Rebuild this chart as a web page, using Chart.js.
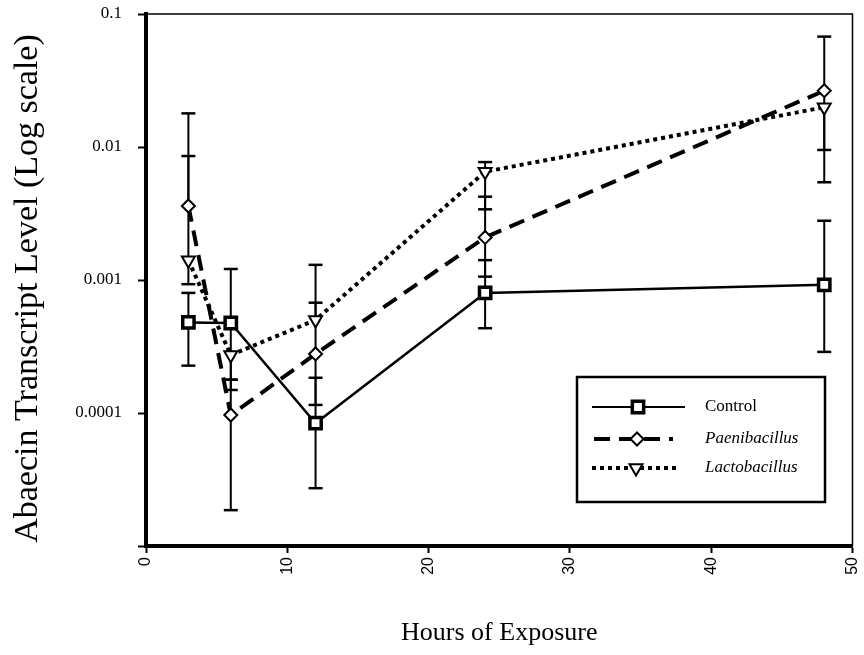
<!DOCTYPE html>
<html>
<head>
<meta charset="utf-8">
<script src="https://cdn.jsdelivr.net/npm/chart.js@4/dist/chart.umd.min.js"></script>
<style>
  html, body { margin: 0; padding: 0; background: #fff; }
  #wrap { width: 864px; height: 655px; }
</style>
</head>
<body>
<div id="wrap"><canvas id="c" width="864" height="655"></canvas></div>
<script>
// ---- Data ----
const hours = [3, 6, 12, 24, 48];

const controlMean = [0.00048, 0.000475, 0.0000838, 0.00080, 0.00092];
const controlLow  = [0.000227, 0.000178, 0.0000272, 0.000434, 0.000288];
const controlHigh = [0.00080, 0.00121, 0.000184, 0.00141, 0.00279];

const paeniMean = [0.0036, 0.0000966, 0.000278, 0.00209, 0.0265];
const paeniLow  = [null, 0.0000186, 0.000115, 0.00106, 0.0095];
const paeniHigh = [0.0179, 0.000178, 0.000675, 0.00423, 0.0676];

const lactoMean = [0.00141, 0.000273, 0.00050, 0.00652, 0.0199];
const lactoLow  = [0.00093, 0.000149, null, 0.0034, 0.00543];
const lactoHigh = [0.00855, null, 0.0013, 0.0077, null];

const seriesNames = ['Control', 'Paenibacillus', 'Lactobacillus'];
const yTickValues = [0.00001, 0.0001, 0.001, 0.01, 0.1];
const yTickLabels = ['', '0.0001', '0.001', '0.01', '0.1'];
const xTitle = 'Hours of Exposure';
const yTitle = 'Abaecin Transcript Level (Log scale)';

// ---- Build datasets ----
const toPts = arr => hours.map((h, i) => ({ x: h, y: arr[i] }));
const errLow = [controlLow, paeniLow, lactoLow];
const errHigh = [controlHigh, paeniHigh, lactoHigh];

const datasets = [
  {
    label: seriesNames[0], data: toPts(controlMean),
    borderColor: '#000', borderWidth: 2.5, backgroundColor: '#fff',
    pointStyle: 'rect', pointRadius: 8, pointBorderWidth: 3.5,
    pointBackgroundColor: '#fff', pointBorderColor: '#000', order: 0
  },
  {
    label: seriesNames[1], data: toPts(paeniMean),
    borderColor: '#000', borderWidth: 4, borderDash: [16, 9],
    pointStyle: 'rectRot', pointRadius: 6.5, pointBorderWidth: 2,
    pointBackgroundColor: '#fff', pointBorderColor: '#000', order: 1
  },
  {
    label: seriesNames[2], data: toPts(lactoMean),
    borderColor: '#000', borderWidth: 4, borderDash: [4, 4],
    pointStyle: 'triangle', pointRotation: 180, pointRadius: 7.5, pointBorderWidth: 2,
    pointBackgroundColor: '#fff', pointBorderColor: '#000', order: 2
  }
];

// ---- Plugins ----
const errorBarPlugin = {
  id: 'errorBars',
  beforeDatasetsDraw(chart) {
    const { ctx, scales: { x, y } } = chart;
    ctx.save();
    ctx.strokeStyle = '#000';
    const cap = 7;
    datasets.forEach((ds, di) => {
      hours.forEach((h, i) => {
        const px = x.getPixelForValue(h);
        const pm = y.getPixelForValue(ds.data[i].y);
        const lo = errLow[di][i], hi = errHigh[di][i];
        ctx.lineWidth = 2;
        if (hi != null) {
          const ph = y.getPixelForValue(hi);
          ctx.beginPath(); ctx.moveTo(px, pm); ctx.lineTo(px, ph); ctx.stroke();
          ctx.lineWidth = 2.5;
          ctx.beginPath(); ctx.moveTo(px - cap, ph); ctx.lineTo(px + cap, ph); ctx.stroke();
        }
        ctx.lineWidth = 2;
        if (lo != null) {
          const pl = y.getPixelForValue(lo);
          ctx.beginPath(); ctx.moveTo(px, pm); ctx.lineTo(px, pl); ctx.stroke();
          ctx.lineWidth = 2.5;
          ctx.beginPath(); ctx.moveTo(px - cap, pl); ctx.lineTo(px + cap, pl); ctx.stroke();
        }
      });
    });
    ctx.restore();
  }
};

const framePlugin = {
  id: 'frame',
  afterDraw(chart) {
    const { ctx, chartArea: a } = chart;
    ctx.save();
    ctx.strokeStyle = '#000';
    ctx.lineWidth = 1.5;
    ctx.beginPath();
    ctx.moveTo(a.left, a.top); ctx.lineTo(a.right, a.top); ctx.lineTo(a.right, a.bottom);
    ctx.stroke();
    ctx.restore();
  }
};

function drawMarker(ctx, ds, x, y) {
  Chart.helpers.drawPoint(ctx, {
    pointStyle: ds.pointStyle, rotation: ds.pointRotation || 0,
    radius: ds.pointRadius, borderWidth: ds.pointBorderWidth
  }, x, y);
}

const legendPlugin = {
  id: 'boxLegend',
  afterDraw(chart) {
    const { ctx } = chart;
    const L = 577, T = 377, R = 825, B = 502;
    ctx.save();
    ctx.fillStyle = '#fff';
    ctx.fillRect(L, T, R - L, B - T);
    ctx.strokeStyle = '#000';
    ctx.lineWidth = 2.5;
    ctx.strokeRect(L, T, R - L, B - T);
    const rows = [407, 439, 468];
    const lineX = [[592, 685], [594, 673], [592, 680]];
    const markX = [638, 637, 636];
    const lw = [1.8, 4, 4];
    datasets.forEach((ds, i) => {
      const y = rows[i];
      ctx.strokeStyle = '#000';
      ctx.lineWidth = lw[i];
      ctx.setLineDash(ds.borderDash || []);
      ctx.beginPath(); ctx.moveTo(lineX[i][0], y); ctx.lineTo(lineX[i][1], y); ctx.stroke();
      ctx.setLineDash([]);
      ctx.fillStyle = '#fff';
      ctx.strokeStyle = '#000';
      ctx.lineWidth = ds.pointBorderWidth;
      drawMarker(ctx, ds, markX[i], y);
      ctx.fillStyle = '#000';
      ctx.font = (i === 0 ? '' : 'italic ') + '17px "Liberation Serif", "Times New Roman", serif';
      ctx.textBaseline = 'middle';
      ctx.textAlign = 'left';
      ctx.fillText(ds.label, 705, y);
    });
    ctx.restore();
  }
};

new Chart(document.getElementById('c'), {
  type: 'line',
  data: { datasets },
  options: {
    responsive: false,
    animation: false,
    devicePixelRatio: 1,
    layout: { padding: { left: 0, right: 0, top: 14, bottom: 0 } },
    plugins: { legend: { display: false }, tooltip: { enabled: false } },
    scales: {
      x: {
        type: 'linear', min: 0, max: 50,
        afterFit(s) { s.height = 109; s.paddingLeft = 0; s.paddingRight = 0; },
        ticks: {
          stepSize: 10, maxRotation: 90, minRotation: 90, padding: 4,
          color: '#000', font: { family: '"Liberation Sans", Arial, sans-serif', size: 16 }
        },
        grid: { drawOnChartArea: false, drawTicks: true, tickLength: 7, tickWidth: 2, tickColor: '#000' },
        border: { display: true, width: 4, color: '#000' },
        title: {
          display: true, text: xTitle, color: '#000',
          font: { family: '"Liberation Serif", "Times New Roman", serif', size: 26 },
          padding: { top: 0, bottom: 6 }
        }
      },
      y: {
        type: 'logarithmic', min: yTickValues[0], max: yTickValues[yTickValues.length - 1],
        afterFit(s) { s.width = 146; s.paddingTop = 0; s.paddingBottom = 0; },
        afterBuildTicks(s) { s.ticks = yTickValues.map(v => ({ value: v, major: true })); },
        ticks: {
          padding: 16, color: '#000',
          font: { family: '"Liberation Serif", "Times New Roman", serif', size: 17 },
          callback: (v, i) => yTickLabels[i]
        },
        grid: { drawOnChartArea: false, drawTicks: true, tickLength: 8, tickWidth: 2, tickColor: '#000' },
        border: { display: true, width: 4, color: '#000' },
        title: {
          display: true, text: yTitle + '\u00A0\u00A0', color: '#000',
          font: { family: '"Liberation Serif", "Times New Roman", serif', size: 34 },
          padding: { top: 8, bottom: 0 }
        }
      }
    }
  },
  plugins: [errorBarPlugin, framePlugin, legendPlugin]
});
</script>
</body>
</html>
